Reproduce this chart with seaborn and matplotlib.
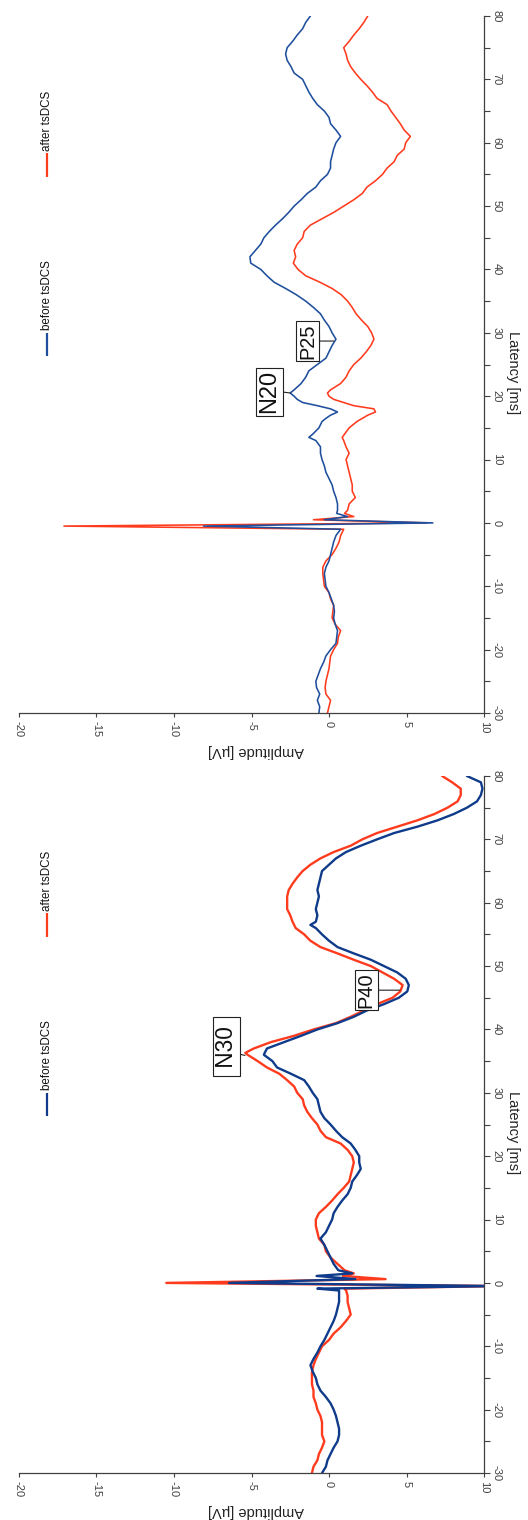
import matplotlib
matplotlib.use("Agg")
import matplotlib.pyplot as plt
import seaborn as sns
import numpy as np

# ---------------- data ----------------
series_names = ["before tsDCS", "after tsDCS"]
amp_ticks = [-20, -15, -10, -5, 0, 5, 10]
lat_ticks = list(range(-30, 81, 10))

# top panel (N20 / P25)
lat_top = [-30, -29, -28, -27, -26, -25, -24, -23, -22, -21, -20, -19, -18, -17, -16,
           -15, -14, -13, -12, -11, -10, -9, -8, -7, -6, -5, -4, -3, -2, -1,
           -0.5, 0, 0.5, 1, 1.5, 2, 3, 4, 5, 6, 7, 8, 9, 10, 11, 12, 13, 13.5, 14,
           15, 16, 16.5, 17, 17.5, 18, 18.5, 19, 19.5, 20, 20.5, 21, 22, 23, 24, 25,
           26, 27, 28, 29, 30, 31, 32, 33, 34, 35, 36, 37, 38, 39, 40, 41, 42, 43,
           44, 45, 46, 47, 48, 49, 50, 51, 52, 53, 54, 55, 56, 57, 58, 59, 60, 61,
           62, 63, 64, 65, 66, 67, 68, 69, 70, 71, 72, 73, 74, 75, 76, 77, 78, 79, 80]
before_top = [-0.65, -0.6, -0.75, -0.6, -0.8, -0.85, -0.7, -0.55, -0.35, -0.2, 0.1, 0.45, 0.5, 0.55, 0.4,
              0.3, 0.35, 0.3, 0.15, 0.0, -0.2, -0.25, -0.3, -0.2, 0.0, 0.1, 0.2, 0.3, 0.45, 0.75,
              -8.1, 6.7, -0.3, 1.2, 0.5, 0.55, 0.55, 0.45, 0.3, 0.2, 0.0, -0.2, -0.3, -0.45, -0.55, -0.55, -0.85, -1.3, -1.05,
              -0.65, -0.45, -0.2, 0.1, 0.55, 0.1, -0.75, -1.7, -2.05, -2.25, -2.5, -2.25, -1.8, -1.5, -1.3, -0.75,
              -0.2, 0.0, 0.2, 0.45, 0.2, 0.0, -0.3, -0.55, -1.0, -1.5, -2.1, -2.8, -3.55, -4.0, -4.4, -5.05, -5.1, -4.75,
              -4.4, -4.2, -3.85, -3.45, -3.0, -2.6, -2.25, -1.8, -1.4, -0.85, -0.55, -0.1, 0.1, 0.1, 0.2, 0.3, 0.45, 0.75,
              0.45, 0.1, 0.0, -0.3, -0.75, -1.05, -1.3, -1.5, -1.7, -2.25, -2.45, -2.7, -2.8, -2.7, -2.35, -2.05, -1.7, -1.5, -1.2]
after_top = [-0.1, 0.0, 0.1, -0.2, -0.25, -0.2, -0.1, 0.0, 0.05, 0.1, 0.3, 0.55, 0.6, 0.75, 0.4,
             0.2, 0.25, 0.3, 0.1, 0.0, -0.3, -0.35, -0.4, -0.4, -0.2, 0.2, 0.45, 0.65, 0.75, 0.95,
             -17.1, 6.3, -1.0, 1.6, 1.0, 1.2, 1.3, 1.7, 1.5, 1.5, 1.4, 1.3, 1.2, 1.1, 1.3, 1.1, 0.95, 0.85, 1.0,
             1.3, 1.8, 2.15, 2.5, 3.0, 2.9, 1.6, 0.95, 0.3, 0.0, -0.1, 0.1, 0.75, 1.1, 1.3, 1.6,
             2.05, 2.4, 2.7, 2.9, 2.75, 2.5, 2.1, 1.75, 1.5, 1.2, 0.8, 0.2, -0.6, -1.5, -2.0, -2.3, -2.15, -2.25,
             -2.05, -1.7, -1.6, -1.2, -0.45, 0.3, 0.95, 1.6, 2.15, 2.45, 3.0, 3.45, 3.75, 4.2, 4.4, 4.85, 4.95, 5.25,
             4.85, 4.6, 4.3, 4.0, 3.75, 3.1, 2.8, 2.45, 2.05, 1.7, 1.4, 1.2, 1.1, 0.95, 1.3, 1.6, 1.95, 2.25, 2.5]

# bottom panel (N30 / P40)
lat_bot = [-30, -29, -28, -27, -26, -25, -24, -23, -22, -21, -20, -19, -18, -17, -16,
           -15, -14, -13, -12, -11, -10, -9, -8, -7, -6, -5, -4, -3, -2,
           -1.2, -0.9, -0.5, 0, 0.6, 1.1, 1.5, 2, 3, 4, 5, 6, 7, 8, 9, 10, 11, 12,
           13, 14, 15, 16, 17, 18, 19, 20, 21, 22, 23, 24, 25, 26, 27, 28, 29, 30,
           31, 32, 33, 34, 35, 36, 36.3, 37, 38, 39, 40, 41, 42, 43, 44, 45, 46, 47,
           48, 49, 50, 51, 52, 53, 54, 55, 56, 56.5, 57, 58, 59, 60, 61, 62, 63, 64,
           65, 66, 67, 68, 69, 70, 71, 72, 73, 74, 75, 76, 77, 78, 79, 80]
before_bot = [-0.45, -0.2, -0.1, 0.1, 0.3, 0.55, 0.65, 0.65, 0.55, 0.45, 0.3, 0.1, -0.2, -0.55, -0.75,
              -0.85, -1.05, -1.2, -1.0, -0.75, -0.55, -0.3, -0.1, 0.1, 0.3, 0.45, 0.55, 0.65, 0.65,
              0.65, -0.75, 11.0, -6.45, 1.7, -0.8, 1.5, 0.6, 0.3, 0.1, -0.1, -0.3, -0.55, -0.2, 0.0, 0.2, 0.3, 0.55,
              0.85, 1.2, 1.4, 1.5, 1.8, 2.05, 1.95, 1.95, 1.7, 1.4, 0.85, 0.45, 0.1, -0.3, -0.55, -0.65, -0.75, -1.05,
              -1.3, -1.6, -2.45, -3.35, -3.65, -4.2, -4.15, -4.0, -2.9, -1.8, -0.75, 0.55, 1.6, 2.45, 3.55, 4.5, 5.05, 5.15,
              4.95, 4.4, 3.55, 2.7, 1.6, 0.55, 0.0, -0.45, -0.85, -1.2, -0.85, -0.75, -0.85, -0.75, -0.65, -0.75, -0.65, -0.55,
              -0.45, 0.0, 0.45, 1.1, 2.05, 3.1, 4.2, 5.7, 7.0, 8.05, 8.9, 9.55, 9.8, 9.9, 9.8, 8.9]
after_bot = [-1.1, -1.0, -0.75, -0.65, -0.45, -0.3, -0.45, -0.45, -0.45, -0.55, -0.75, -0.85, -1.0, -1.0, -1.1,
             -1.1, -1.1, -1.0, -0.85, -0.65, -0.45, 0.0, 0.3, 0.75, 1.1, 1.4, 1.3, 1.2, 1.2,
             1.1, 1.0, 11.0, -10.5, 3.65, 0.9, 1.6, 1.0, 0.55, 0.1, -0.2, -0.3, -0.65, -0.75, -0.85, -0.85, -0.65, -0.2,
             0.2, 0.55, 0.95, 1.3, 1.4, 1.5, 1.6, 1.5, 1.2, 0.75, -0.2, -0.55, -0.75, -1.1, -1.4, -1.6, -1.7, -2.05,
             -2.25, -2.7, -3.2, -4.0, -4.6, -5.25, -5.4, -4.85, -3.75, -2.25, -1.0, 0.45, 1.4, 2.25, 3.1, 4.1, 4.6, 4.75,
             4.2, 3.45, 2.7, 1.6, 0.55, -0.55, -1.2, -1.6, -2.15, -2.25, -2.35, -2.5, -2.7, -2.7, -2.7, -2.6, -2.35, -2.05,
             -1.7, -1.2, -0.55, 0.3, 1.4, 2.15, 3.1, 4.4, 5.7, 6.8, 7.65, 8.3, 8.5, 8.5, 7.95, 7.3]

# ---------------- styling ----------------
sns.set_style("white")
plt.rcParams["font.family"] = ["Liberation Sans", "DejaVu Sans"]

RED = "#ff3b1e"
BLUE_TOP = "#1f4f9c"
BLUE_BOT = "#0f3b8a"
AXC = "#404040"

fig = plt.figure(figsize=(5.28, 15.2), dpi=100)
W, H = 528.0, 1520.0
ax_top = fig.add_axes([19 / W, 1 - 713 / H, 465 / W, 697 / H])
ax_bot = fig.add_axes([19 / W, 1 - 1473 / H, 465 / W, 697 / H])


def draw_panel(ax, lat, before, after, lw, blue, labels):
    sns.lineplot(x=after, y=lat, orient="y", sort=False, estimator=None,
                 color=RED, lw=lw, ax=ax)
    sns.lineplot(x=before, y=lat, orient="y", sort=False, estimator=None,
                 color=blue, lw=lw, ax=ax)
    ax.set_xlim(-20, 10)
    ax.set_ylim(-30, 80)
    for s in ["top", "left"]:
        ax.spines[s].set_visible(False)
    for s in ["bottom", "right"]:
        ax.spines[s].set_color(AXC)
        ax.spines[s].set_linewidth(0.9)
    ax.set_xticks(amp_ticks)
    ax.set_xticklabels([str(t) for t in amp_ticks])
    ax.yaxis.tick_right()
    ax.set_yticks(lat_ticks)
    ax.set_yticklabels([str(t) for t in lat_ticks])
    ax.set_yticks(list(range(-25, 80, 10)), minor=True)
    ax.tick_params(axis="x", which="both", direction="out", length=3, width=0.8,
                   color=AXC, labelcolor=AXC, labelsize=8, labelrotation=-90, pad=3,
                   bottom=True)
    ax.tick_params(axis="y", which="both", direction="out", length=4, width=0.8,
                   color=AXC, labelcolor=AXC, labelsize=8, labelrotation=-90, pad=1.5,
                   right=True, left=False)
    for t in ax.get_yticklabels():
        t.set_va("center")
    ax.set_xlabel("Amplitude [µV]", rotation=180, fontsize=10.5, color="#222222",
                  va="center", ha="center")
    ax.xaxis.set_label_coords(0.51, -0.0545)
    ax.yaxis.set_label_position("right")
    ax.set_ylabel("Latency [ms]", rotation=270, fontsize=10.5, color="#222222",
                  va="center", ha="center")
    ax.yaxis.set_label_coords((513 - 19) / 465, 0.488)
    ax.grid(False)

    # legend (rotated, drawn manually)
    for name, col, y0, y1 in [(series_names[0], blue, 0.512, 0.545),
                              (series_names[1], RED, 0.769, 0.803)]:
        ax.plot([0.06, 0.06], [y0, y1], transform=ax.transAxes, color=col,
                lw=1.6, solid_capstyle="butt", clip_on=False)
        ax.text(0.06, y1 + 0.004, name, transform=ax.transAxes, rotation=90,
                ha="center", va="bottom", fontsize=8.4, color="#111111")

    # peak annotations
    for text, xy, xyt, fs, style, rel in labels:
        ax.annotate(text, xy=xy, xytext=xyt, rotation=90, ha="center", va="center",
                    fontsize=fs, color="#111111",
                    bbox=dict(boxstyle="square,pad=0.1", fc="white", ec="#222222", lw=0.8),
                    arrowprops=dict(arrowstyle=style, color="#222222", lw=0.8,
                                    relpos=rel, shrinkA=0, shrinkB=0))


draw_panel(ax_top, lat_top, before_top, after_top, 1.15, BLUE_TOP,
           [("N20", (-2.5, 20.5), (-3.84, 20.7), 17, "-", (1.0, 0.5)),
            ("P25", (0.3, 28.7), (-1.39, 28.7), 14.4, "]-,widthA=0.35,lengthA=0", (1.0, 0.5))])
draw_panel(ax_bot, lat_bot, before_bot, after_bot, 1.7, BLUE_BOT,
           [(" N30 ", (-5.42, 35.9), (-6.61, 37.27), 16.3, "-", (1.0, 0.37)),
            ("P40", (4.58, 46.2), (2.39, 46.2), 14.4, "]-,widthA=0.35,lengthA=0", (1.0, 0.5))])

fig.savefig("out.png", dpi=100, facecolor="white")
